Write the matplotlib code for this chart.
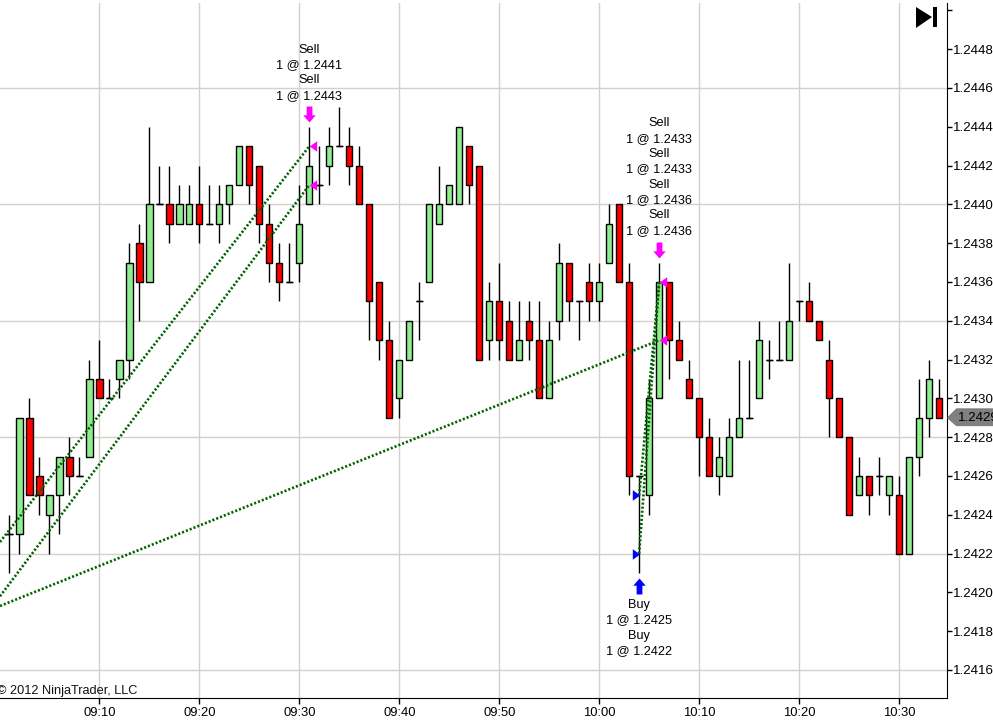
import numpy as np
import matplotlib
matplotlib.use("Agg")
import matplotlib.pyplot as plt
from matplotlib.path import Path
from matplotlib.patches import Polygon
from matplotlib.transforms import offset_copy, IdentityTransform

plt.rcParams['font.family'] = ['Liberation Sans', 'DejaVu Sans']

# minutes after 09:00, prices are in pips above 1.2400
minutes = np.arange(1, 95)
opens = [23, 23, 29, 26, 24, 25, 27, 26, 27, 31, 30, 31, 32, 38, 36, 40, 40, 39, 39, 40, 39, 39, 40, 41,
         43, 42, 39, 37, 36, 37, 40, 41, 42, 43, 43, 42, 40, 36, 33, 30, 32, 35, 36, 39, 40, 40, 43, 42,
         33, 35, 34, 32, 34, 33, 30, 34, 37, 35, 36, 35, 37, 40, 36, 26, 25, 30, 36, 33, 31, 30, 28, 26,
         26, 28, 29, 30, 32, 32, 32, 35, 35, 34, 32, 30, 28, 25, 26, 26, 25, 25, 22, 27, 29, 30]
highs = [24, 29, 30, 27, 25, 27, 28, 27, 32, 33, 31, 32, 38, 39, 44, 42, 42, 41, 41, 42, 41, 41, 41, 43,
         43, 42, 40, 38, 38, 41, 44, 43, 44, 45, 44, 43, 40, 36, 34, 32, 34, 36, 40, 42, 41, 44, 43, 42,
         36, 37, 35, 35, 35, 35, 34, 38, 37, 35, 37, 37, 40, 40, 37, 26, 31, 37, 36, 34, 32, 30, 29, 28,
         29, 32, 32, 34, 33, 34, 37, 35, 36, 34, 33, 30, 28, 27, 26, 27, 26, 26, 27, 31, 32, 31]
lows = [21, 22, 25, 24, 22, 23, 25, 26, 27, 30, 30, 30, 31, 34, 36, 40, 38, 39, 39, 38, 39, 38, 39, 41,
        40, 38, 36, 35, 36, 36, 40, 40, 41, 43, 41, 40, 33, 32, 29, 29, 32, 33, 36, 39, 40, 40, 40, 32,
        32, 32, 32, 32, 32, 30, 30, 33, 34, 33, 34, 34, 37, 36, 25, 21, 24, 30, 31, 32, 30, 26, 26, 25,
        26, 28, 29, 30, 31, 32, 32, 34, 34, 33, 28, 28, 24, 25, 24, 25, 24, 22, 22, 26, 28, 29]
closes = [23, 29, 25, 25, 25, 27, 26, 26, 31, 30, 30, 32, 37, 36, 40, 40, 39, 40, 40, 39, 39, 40, 41, 43,
          41, 39, 37, 36, 36, 39, 42, 41, 43, 43, 42, 40, 35, 33, 29, 32, 34, 35, 40, 40, 41, 44, 41, 32,
          35, 33, 32, 33, 33, 30, 33, 37, 35, 35, 35, 36, 39, 36, 26, 26, 30, 36, 33, 32, 30, 28, 26, 27,
          28, 29, 29, 33, 32, 32, 34, 35, 34, 33, 30, 28, 24, 26, 25, 26, 26, 22, 27, 29, 31, 29]

time_ticks = [10, 20, 30, 40, 50, 60, 70, 80, 90]
time_labels = ['09:10', '09:20', '09:30', '09:40', '09:50', '10:00', '10:10', '10:20', '10:30']
price_ticks = [1.2416, 1.2418, 1.2420, 1.2422, 1.2424, 1.2426, 1.2428, 1.2430, 1.2432,
               1.2434, 1.2436, 1.2438, 1.2440, 1.2442, 1.2444, 1.2446, 1.2448, 1.2450]
price_labels = ['1.2416', '1.2418', '1.2420', '1.2422', '1.2424', '1.2426', '1.2428', '1.2430', '1.2432',
                '1.2434', '1.2436', '1.2438', '1.2440', '1.2442', '1.2444', '1.2446', '1.2448', '']
grid_prices = [1.2416, 1.2422, 1.2428, 1.2434, 1.2440, 1.2446]

# entry -> exit dotted lines, the first three start off the chart
trade_x0 = [0.05, 0.05, 0.05, 64, 64]
trade_y0 = [1.24226, 1.24198, 1.24193, 1.2422, 1.2425]
trade_x1 = [31, 31, 66, 66, 66]
trade_y1 = [1.2443, 1.2441, 1.2433, 1.2436, 1.2436]

sell_x = [31.35, 31.35, 66.35, 66.35]
sell_y = [1.2443, 1.2441, 1.2436, 1.2433]
buy_x = [63.7, 63.7]
buy_y = [1.2425, 1.2422]

last_price = 1.2429

opens = 1.24 + np.array(opens) / 1e4
highs = 1.24 + np.array(highs) / 1e4
lows = 1.24 + np.array(lows) / 1e4
closes = 1.24 + np.array(closes) / 1e4

W, H = 993, 724
fig = plt.figure(figsize=(W / 100, H / 100), dpi=100, facecolor='white')
ax = fig.add_axes([0, (H - 698.3) / H, 946.5 / W, (698.3 - 3) / H])
ax.set_xlim(0.05, 94.75)
ax.set_ylim(1.2446 - (698.3 - 88) / 194000, 1.2446 + 85 / 194000)

grid_color = '#d4d1ca'
for p in grid_prices:
    ax.axhline(p, color=grid_color, lw=1.0, zorder=1)
for t in time_ticks:
    ax.axvline(t, color=grid_color, lw=1.0, zorder=1)

# candles
ax.vlines(minutes, lows, highs, color='black', lw=1.0, zorder=2)
body_colors = ['#90ee90' if c > o else '#ff0000' for o, c in zip(opens, closes)]
ax.bar(minutes, closes - opens, bottom=opens, width=0.62, color=body_colors,
       edgecolor='black', linewidth=1.0, zorder=3)
doji = opens == closes
ax.hlines(opens[doji], minutes[doji] - 0.35, minutes[doji] + 0.35, color='black', lw=1.0, zorder=3)

for x0, y0, x1, y1 in zip(trade_x0, trade_y0, trade_x1, trade_y1):
    ax.plot([x0, x1], [y0, y1], color='#006400', lw=1.9, linestyle=(0, (0.8, 0.75)), zorder=4)

sell_tri = Path([(-0.7, 0), (0.7, 1), (0.7, -1), (-0.7, 0)], closed=True)
buy_tri = Path([(0.7, 0), (-0.7, 1), (-0.7, -1), (0.7, 0)], closed=True)
ax.plot(sell_x, sell_y, marker=sell_tri, ls='none', color='#ff00ff', ms=7.6, mew=0, zorder=5)
ax.plot(buy_x, buy_y, marker=buy_tri, ls='none', color='#0000ff', ms=7.6, mew=0, zorder=5)

# big arrows above / below the bars
down_arrow = Path([(-0.36, 1), (0.36, 1), (0.36, -0.1), (0.78, -0.1), (0, -1), (-0.78, -0.1), (-0.36, -0.1), (-0.36, 1)], closed=True)
up_arrow = Path([(-0.36, -1), (0.36, -1), (0.36, 0.1), (0.78, 0.1), (0, 1), (-0.78, 0.1), (-0.36, 0.1), (-0.36, -1)], closed=True)
above = offset_copy(ax.transData, fig=fig, y=13, units='dots')
below = offset_copy(ax.transData, fig=fig, y=-13, units='dots')
ax.plot([31, 66], [1.2444, 1.2437], marker=down_arrow, ls='none', color='#ff00ff', ms=11.5, mew=0,
        transform=above, zorder=5)
ax.plot([64], [1.2421], marker=up_arrow, ls='none', color='#0000ff', ms=11.5, mew=0,
        transform=below, zorder=5)

label_size = 9.2
ax.annotate('Sell\n1 @ 1.2441\nSell\n1 @ 1.2443', (31, 1.2444), xytext=(0, 25), textcoords='offset pixels',
            ha='center', va='bottom', fontsize=label_size, linespacing=1.37)
ax.annotate('Sell\n1 @ 1.2433\nSell\n1 @ 1.2433\nSell\n1 @ 1.2436\nSell\n1 @ 1.2436', (66, 1.2437),
            xytext=(0, 26), textcoords='offset pixels', ha='center', va='bottom', fontsize=label_size, linespacing=1.37)
ax.annotate('Buy\n1 @ 1.2425\nBuy\n1 @ 1.2422', (64, 1.2421), xytext=(0, -26), textcoords='offset pixels',
            ha='center', va='top', fontsize=label_size, linespacing=1.37)

ax.text(-3 / 946.5, 7.3 / 695.3, '\u00a9 2012 NinjaTrader, LLC', transform=ax.transAxes,
        ha='left', va='center', fontsize=9.2, color='#111111')

# axes
for side in ['top', 'left']:
    ax.spines[side].set_visible(False)
ax.yaxis.tick_right()
ax.set_xticks(time_ticks)
ax.set_xticklabels(time_labels, fontsize=9.4)
ax.set_yticks(price_ticks)
ax.set_yticklabels(price_labels, fontsize=9.6)
ax.tick_params(axis='x', length=4, width=1, pad=2.5)
ax.tick_params(axis='y', length=3.6, width=1, pad=0.8)

# last price flag on the axis
px, py = ax.transData.transform((94.75, last_price))
flag = Polygon([(px + 1, py), (px + 10, py + 9), (W + 5, py + 9), (W + 5, py - 8), (px + 10, py - 8)],
               closed=True, facecolor='#808080', edgecolor='#707070', lw=0.5,
               transform=IdentityTransform(), zorder=6)
fig.add_artist(flag)
fig.text((px + 11) / W, py / H, '1.2429', ha='left', va='center', fontsize=9.6, color='black', zorder=7)

# "go to end" button top right
fig.add_artist(Polygon([(916, H - 7), (932, H - 17), (916, H - 28)], closed=True, facecolor='black',
                       edgecolor='none', transform=IdentityTransform()))
fig.add_artist(Polygon([(933, H - 7), (936.5, H - 7), (936.5, H - 27), (933, H - 27)], closed=True, facecolor='black',
                       edgecolor='none', transform=IdentityTransform()))

fig.savefig('out.png', dpi=100)
